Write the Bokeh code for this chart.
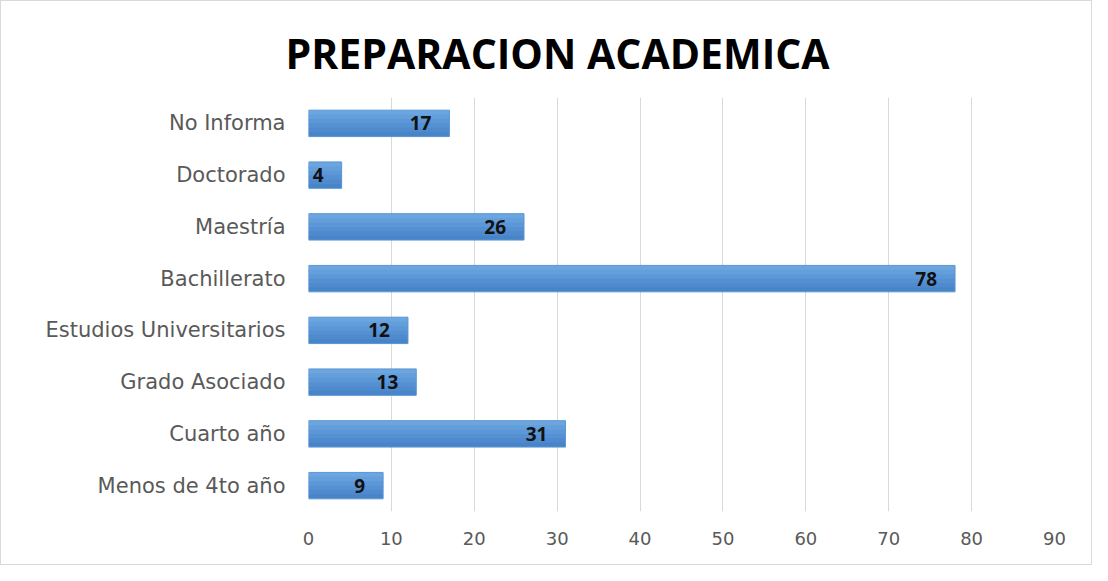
from bokeh.plotting import figure
from bokeh.models import ColumnDataSource, Title
from bokeh.transform import dodge
from bokeh.embed import file_html
from bokeh.resources import INLINE
from bokeh.core.properties import value

title_text = "PREPARACION ACADEMICA"
categories = ["No Informa", "Doctorado", "Maestría", "Bachillerato",
              "Estudios Universitarios", "Grado Asociado", "Cuarto año", "Menos de 4to año"]
counts = [17, 4, 26, 78, 12, 13, 31, 9]
ticks = [0, 10, 20, 30, 40, 50, 60, 70, 80, 90]

src = ColumnDataSource(dict(cat=categories, val=counts, lab=[str(v) for v in counts]))

p = figure(width=1092, height=565, y_range=list(reversed(categories)), x_range=(0, 90),
           output_backend="svg", toolbar_location=None,
           min_border_left=307, min_border_right=39, min_border_bottom=55, min_border_top=96)

p.title = Title(text=title_text, align="left", offset=-23, vertical_align="top",
                text_font="Open Sans", text_font_size="41px", text_font_style="bold",
                text_color="#000000", standoff=30, text_line_height=0.6)

# gradient-like bar fill built from overlapping bands (top light -> bottom darker)
bar_h = 0.51
bands = ["#6ba6e1", "#649fdc", "#5c98d7", "#5591d2", "#4e8acd", "#4784c8"]
n = len(bands)
bh = bar_h / n
for i, c in enumerate(bands):
    top = bar_h / 2 - bh * i
    h = bh * 1.6 if i < n - 1 else bh
    off = top - h / 2
    p.hbar(y=dodge("cat", off, range=p.y_range), left=0, right="val", height=h,
           source=src, fill_color=c, line_color=None)
p.hbar(y="cat", left=0, right="val", height=bar_h, source=src,
       fill_color=None, line_color="#5a96d3", line_width=1)

p.text(x="val", y="cat", text="lab", source=src, x_offset=-18, text_align="right",
       text_baseline="middle", text_font=value("Open Sans"), text_font_style="bold",
       text_font_size="19px", text_color="#111111")

p.xaxis.ticker = ticks
p.xaxis.major_tick_line_color = None
p.xaxis.minor_tick_line_color = None
p.xaxis.axis_line_color = None
p.xaxis.major_label_text_font = "DejaVu Sans"
p.xaxis.major_label_text_font_size = "18px"
p.xaxis.major_label_text_color = "#595959"
p.xaxis.major_label_standoff = 14

p.yaxis.major_tick_line_color = None
p.yaxis.minor_tick_line_color = None
p.yaxis.axis_line_color = None
p.yaxis.major_label_text_font = "DejaVu Sans"
p.yaxis.major_label_text_font_size = "21px"
p.yaxis.major_label_text_color = "#595959"
p.yaxis.major_label_standoff = 17

p.xgrid.grid_line_color = "#d9d9d9"
p.xgrid.grid_line_width = 1
p.ygrid.grid_line_color = None
p.outline_line_color = None
p.styles = {"border": "1px solid #d9d9d9"}

open("out.html", "w").write(file_html(p, INLINE))
